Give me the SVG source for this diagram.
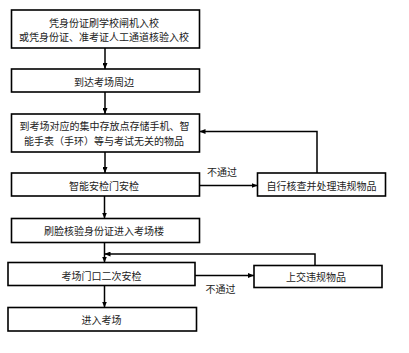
<svg xmlns="http://www.w3.org/2000/svg" width="409" height="353" viewBox="0 0 409 353">
<defs>
<marker id="ah" markerWidth="6" markerHeight="5" refX="6" refY="2.5" orient="auto" markerUnits="userSpaceOnUse">
<path d="M0,0 L6,2.5 L0,5 Z" fill="#000"/>
</marker>
<style>
.box{fill:#fff;stroke:#000;stroke-width:1.6}
.t{font-family:"Noto Sans CJK SC","Noto Sans",sans-serif;font-size:10px;fill:#222;text-anchor:middle;dominant-baseline:central}
.c{fill:none;stroke:#000;stroke-width:1.5;marker-end:url(#ah)}
</style>
</defs>
<rect width="409" height="353" fill="#fff"/>
<g id="n1"><rect class="box" x="11.5" y="10" width="188" height="38"/>
<text class="t" x="104" y="22">凭身份证刷学校闸机入校</text>
<text class="t" x="104" y="36">或凭身份证、准考证人工通道核验入校</text></g>
<g id="n2"><rect class="box" x="11.5" y="69" width="188" height="23"/>
<text class="t" x="104" y="81">到达考场周边</text></g>
<g id="n3"><rect class="box" x="11.5" y="114" width="188" height="38"/>
<text class="t" x="104.5" y="125">到考场对应的集中存放点存储手机、智</text>
<text class="t" x="104" y="140">能手表（手环）等与考试无关的物品</text></g>
<g id="n4"><rect class="box" x="11.5" y="173" width="188" height="23"/>
<text class="t" x="104" y="185">智能安检门安检</text></g>
<g id="n5"><rect class="box" x="257.5" y="173" width="128" height="23"/>
<text class="t" x="321.5" y="185">自行核查并处理违规物品</text></g>
<g id="n6"><rect class="box" x="11.5" y="218.5" width="188" height="24"/>
<text class="t" x="104" y="230.5">刷脸核验身份证进入考场楼</text></g>
<g id="n7"><rect class="box" x="8" y="262.5" width="187" height="23"/>
<text class="t" x="101.5" y="275">考场门口二次安检</text></g>
<g id="n8"><rect class="box" x="254" y="265.5" width="128" height="22"/>
<text class="t" x="316" y="276.5">上交违规物品</text></g>
<g id="n9"><rect class="box" x="8" y="307.5" width="188.5" height="23.5"/>
<text class="t" x="101.5" y="319">进入考场</text></g>
<g id="connectors">
<path class="c" d="M105,48 V69"/>
<path class="c" d="M105,92 V114"/>
<path class="c" d="M105,152 V173"/>
<path class="c" d="M104.5,196 V218.5"/>
<path class="c" d="M199.5,185.5 H257.5"/>
<text class="t" x="222" y="171">不通过</text>
<path class="c" d="M317,173 V131.5 H199.5"/>
<path class="c" d="M104.5,242.5 V262.5"/>
<path class="c" d="M315,265.5 V254 H104.5"/>
<path class="c" d="M195,275.5 H254"/>
<text class="t" x="220.5" y="288">不通过</text>
<path class="c" d="M104.5,285.5 V307.5"/>
</g>
</svg>
